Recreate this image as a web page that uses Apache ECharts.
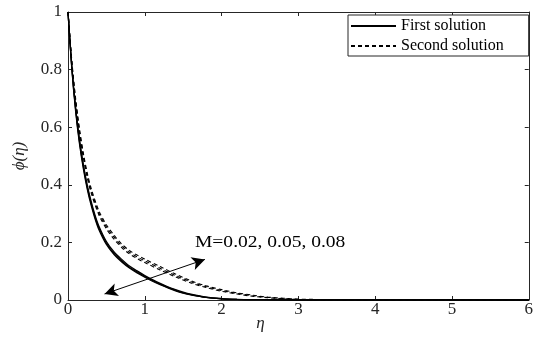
<!DOCTYPE html>
<html>
<head>
<meta charset="utf-8">
<script src="https://cdn.jsdelivr.net/npm/echarts@6/dist/echarts.min.js"></script>
<style>
html,body{margin:0;padding:0;background:#fff;}
#chart{width:536px;height:348px;}
</style>
</head>
<body>
<div id="chart"></div>
<script>
// eta grid for first solution
var etaFirst = [0,0.05,0.1,0.15,0.2,0.25,0.3,0.35,0.4,0.5,0.6,0.7,0.8,0.9,1.0,1.1,1.2,1.3,1.4,1.5,1.6,1.8,2.0,2.2,2.5,3,4,5,6];
var firstM002 = [1,0.802,0.654,0.542,0.456,0.386,0.330,0.284,0.246,0.193,0.158,0.132,0.111,0.094,0.079,0.065,0.053,0.042,0.032,0.024,0.018,0.009,0.004,0.002,0.001,0,0,0,0];
var firstM005 = [1,0.806,0.660,0.549,0.463,0.393,0.337,0.290,0.252,0.198,0.162,0.136,0.114,0.097,0.082,0.068,0.055,0.044,0.034,0.025,0.019,0.009,0.004,0.002,0.001,0,0,0,0];
var firstM008 = [1,0.810,0.666,0.556,0.470,0.400,0.344,0.296,0.258,0.203,0.167,0.141,0.118,0.101,0.085,0.071,0.058,0.046,0.036,0.027,0.020,0.010,0.005,0.002,0.001,0,0,0,0];
// eta grid for second solution
var etaSecond = [0,0.05,0.1,0.15,0.2,0.25,0.3,0.4,0.5,0.6,0.7,0.8,0.9,1.0,1.2,1.4,1.6,1.8,2.0,2.2,2.4,2.6,2.8,3.0,3.5,4,5,6];
var secondM002 = [1,0.820,0.684,0.578,0.494,0.426,0.373,0.297,0.247,0.211,0.182,0.160,0.144,0.130,0.104,0.080,0.059,0.043,0.030,0.021,0.013,0.008,0.004,0.002,0,0,0,0];
var secondM005 = [1,0.825,0.691,0.586,0.502,0.434,0.381,0.304,0.254,0.218,0.188,0.166,0.150,0.136,0.110,0.085,0.063,0.046,0.033,0.023,0.015,0.009,0.005,0.002,0,0,0,0];
var secondM008 = [1,0.830,0.698,0.594,0.510,0.442,0.389,0.311,0.261,0.225,0.194,0.172,0.156,0.142,0.116,0.090,0.067,0.049,0.036,0.025,0.017,0.010,0.006,0.003,0.001,0,0,0];

var xTicks = ['0','1','2','3','4','5','6'];
var yTicks = ['0','0.2','0.4','0.6','0.8','1'];
var legendNames = ['First solution','Second solution'];
var annotationText = 'M=0.02, 0.05, 0.08';
var arrowStart = [0.476, 0.021];
var arrowEnd = [1.783, 0.141];

function pairs(xs, ys){ return xs.map(function(x,i){ return [x, ys[i]]; }); }

var serif = 'Liberation Serif';
var axisColor = '#262626';

function lineSeries(name, xs, ys, dashed, width){
  return {
    type:'line', name:name, data:pairs(xs, ys),
    showSymbol:false, symbol:'none', smooth:0.3,
    lineStyle:{color:'#000', width:width, type: dashed ? [4,3] : 'solid'},
    itemStyle:{color:'#000'},
    emphasis:{disabled:true}, silent:true, animation:false
  };
}

var series = [
  lineSeries(legendNames[0], etaFirst, firstM002, false, 1.3),
  lineSeries(legendNames[0], etaFirst, firstM005, false, 1.3),
  lineSeries(legendNames[0], etaFirst, firstM008, false, 1.3),
  lineSeries(legendNames[1], etaSecond, secondM002, true, 1.1),
  lineSeries(legendNames[1], etaSecond, secondM005, true, 1.1),
  lineSeries(legendNames[1], etaSecond, secondM008, true, 1.1)
];
series[0].markLine = {
  silent:true, animation:false,
  symbol:['arrow','arrow'], symbolSize:[10,13],
  lineStyle:{color:'#000', width:1, type:'solid'},
  label:{show:false},
  data:[[{coord:arrowStart},{coord:arrowEnd}]]
};

var chart = echarts.init(document.getElementById('chart'), null, {renderer:'canvas'});
chart.setOption({
  animation:false,
  backgroundColor:'#fff',
  grid:{left:68, right:1, top:12, bottom:48, containLabel:false},
  legend:{
    data:legendNames, orient:'vertical', left:348, top:15,
    itemWidth:45, itemHeight:12, itemGap:4,
    padding:[3,25,2,2],
    borderColor:axisColor, borderWidth:1, backgroundColor:'#fff',
    itemStyle:{opacity:0, color:'transparent', borderWidth:0},
    textStyle:{fontFamily:serif, fontSize:16, color:'#000'},
    selectedMode:false
  },
  xAxis:[{
    type:'value', min:0, max:6, interval:1,
    name:'η', nameLocation:'middle', nameGap:15, nameMoveOverlap:false,
    nameTextStyle:{fontFamily:serif, fontStyle:'italic', fontSize:17, color:axisColor, padding:[0,76,0,0]},
    axisLine:{show:true, onZero:false, lineStyle:{color:axisColor, width:1}},
    axisTick:{show:true, inside:true, length:4, lineStyle:{color:axisColor}},
    axisLabel:{margin:1, fontFamily:serif, fontSize:17, color:axisColor,
      formatter:function(v){ return xTicks[Math.round(v)]; }},
    splitLine:{show:false}
  },{
    type:'value', min:0, max:6, interval:1, position:'top',
    axisLine:{show:true, onZero:false, lineStyle:{color:axisColor, width:1}},
    axisTick:{show:true, inside:true, length:4, lineStyle:{color:axisColor}},
    axisLabel:{show:false}, splitLine:{show:false}
  }],
  yAxis:[{
    type:'value', min:0, max:1, interval:0.2,
    name:'ϕ(η)', nameLocation:'middle', nameGap:40, nameMoveOverlap:false,
    nameTextStyle:{fontFamily:serif, fontStyle:'italic', fontSize:17, color:axisColor},
    axisLine:{show:true, onZero:false, lineStyle:{color:axisColor, width:1}},
    axisTick:{show:true, inside:true, length:4, lineStyle:{color:axisColor}},
    axisLabel:{margin:6, fontFamily:serif, fontSize:17, color:axisColor,
      formatter:function(v){ return yTicks[Math.round(v*5)]; }},
    splitLine:{show:false}
  },{
    type:'value', min:0, max:1, interval:0.2, position:'right',
    axisLine:{show:true, onZero:false, lineStyle:{color:axisColor, width:1}},
    axisTick:{show:true, inside:true, length:4, lineStyle:{color:axisColor}},
    axisLabel:{show:false}, splitLine:{show:false}
  }],
  graphic:[{
    type:'text', x:195, y:243, scaleX:1.22, silent:true,
    style:{text:annotationText, fill:'#000', font:'16px "Liberation Serif"',
      textAlign:'left', textVerticalAlign:'middle'}
  }],
  series:series
});
</script>
</body>
</html>
